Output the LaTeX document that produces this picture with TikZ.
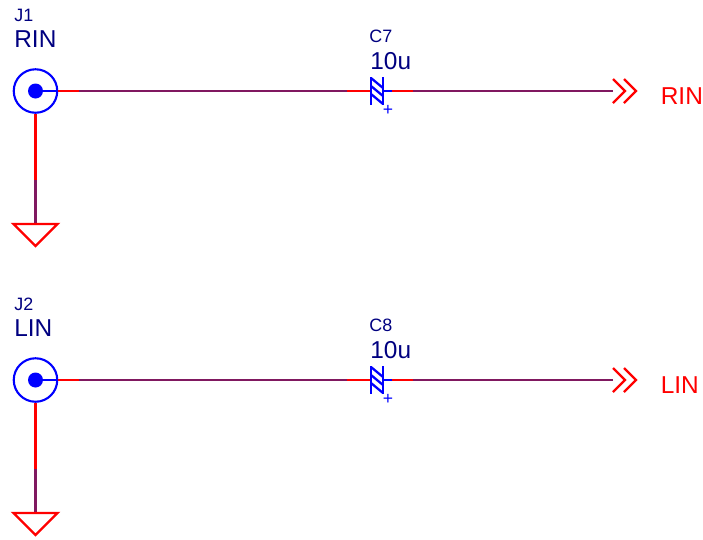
\documentclass[tikz,border=0pt]{standalone}
\usepackage{fontspec}
\setmainfont{Liberation Sans}
\definecolor{wirered}{RGB}{255,0,0}
\definecolor{wirepurple}{RGB}{128,24,96}
\definecolor{partblue}{RGB}{0,0,255}
\definecolor{labelnavy}{RGB}{0,0,128}
\usetikzlibrary{shapes.geometric}
\tikzset{
  jackring/.style={circle, draw=partblue, line width=1.2pt, minimum size=0.87cm, inner sep=0pt},
  jackpin/.style={circle, fill=partblue, minimum size=0.3cm, inner sep=0pt},
  reflabel/.style={anchor=base west, inner sep=0pt, text=labelnavy, font=\fontsize{10.2}{12}\selectfont},
  vallabel/.style={anchor=base west, inner sep=0pt, text=labelnavy, font=\fontsize{13.9}{15}\selectfont},
  siglabel/.style={anchor=base west, inner sep=0pt, text=wirered, font=\fontsize{13.9}{15}\selectfont},
  redwire/.style={draw=wirered, line width=1.3pt},
  netwire/.style={draw=wirepurple, line width=1.3pt},
  bluewire/.style={draw=partblue, line width=1.3pt},
}
\begin{document}
\begin{tikzpicture}[x=0.02cm, y=-0.02cm]
\useasboundingbox (0,0) rectangle (703,539);
\foreach \rowy/\jack/\cap/\val/\sig in {91/J1/C7/10u/RIN, 380/J2/C8/10u/LIN}{
% connector
\node[jackring] (\jack) at (35.5,\rowy) {};
\node[jackpin] (\jack pin) at (35.5,\rowy) {};
\node[reflabel] (\jack ref) at (14,\rowy-70) {\jack};
\node[vallabel] (\jack val) at (14,\rowy-44) {\sig};
\coordinate (\jack a) at (79,\rowy);
\coordinate (\jack b) at (35.5,\rowy+89);
\coordinate (\jack gnd) at (35.5,\rowy+133);
\draw[bluewire] (\jack pin.center) -- (\jack.east);
\draw[redwire] (\jack.east) -- (\jack a);
\draw[redwire] (\jack.south) -- (\jack b);
\draw[netwire] (\jack b) -- (\jack gnd);
% ground
\draw[redwire, line join=miter] (13.5,\rowy+133) -- (57.5,\rowy+133) -- (35.5,\rowy+155) -- cycle;
% capacitor
\coordinate (\cap l) at (371,\rowy);
\coordinate (\cap r) at (383,\rowy);
\coordinate (\cap a) at (347,\rowy);
\coordinate (\cap b) at (392,\rowy);
\coordinate (\cap c) at (413,\rowy);
\node[reflabel] (\cap ref) at (369,\rowy-49) {\cap};
\node[vallabel] (\cap val) at (370,\rowy-22) {\val};
\node[text=partblue, inner sep=0pt, font=\fontsize{10}{10}\selectfont] (\cap plus) at (388,\rowy+19.5) {+};
\draw[netwire] (\jack a) -- (\cap a);
\draw[redwire] (\cap a) -- (\cap l);
\draw[bluewire] (\cap r) -- (\cap b);
\draw[redwire] (\cap b) -- (\cap c);
\draw[bluewire] (371,\rowy-14) -- (371,\rowy+14);
\draw[bluewire] (383,\rowy-14) -- (383,\rowy+14);
\foreach \d in {-13,-5,3}{
\draw[bluewire] (371,\rowy+\d) -- (383,\rowy+\d+10);
}
% offpage
\coordinate (\sig end) at (613,\rowy);
\draw[netwire] (\cap c) -- (\sig end);
\draw[redwire] (613,\rowy-12) -- (625,\rowy) -- (613,\rowy+12);
\draw[redwire] (624,\rowy-12) -- (636,\rowy) -- (624,\rowy+12);
\node[siglabel] (\sig net) at (660.5,\rowy+13) {\sig};
}
\end{tikzpicture}
\end{document}
